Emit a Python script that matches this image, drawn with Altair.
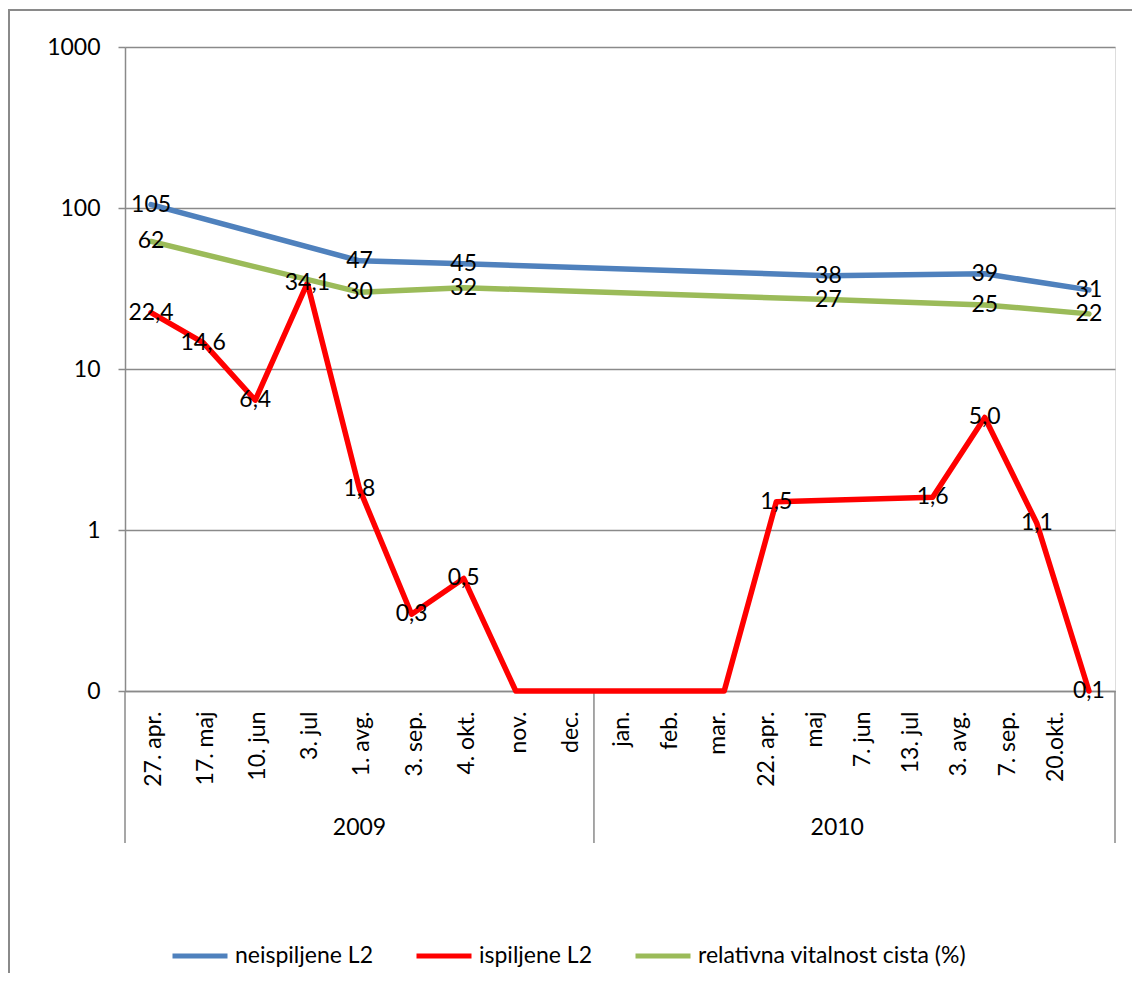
import json
import altair as alt
import pandas as pd

# ---- data ----
categories = ["27. apr.", "17. maj", "10. jun", "3. jul", "1. avg.", "3. sep.", "4. okt.", "nov.", "dec.",
              "jan.", "feb.", "mar.", "22. apr.", "maj", "7. jun", "13. jul", "3. avg.", "7. sep.", "20.okt."]
years = ["2009", "2010"]
neispiljene = [105, None, None, None, 47, None, 45, None, None,
               None, None, None, None, 38, None, None, 39, None, 31]
ispiljene = [22.4, 14.6, 6.4, 34.1, 1.8, 0.3, 0.5, 0, 0,
             0, 0, 0, 1.5, None, None, 1.6, 5.0, 1.1, 0.1]
vitalnost = [62, None, None, None, 30, None, 32, None, None,
             None, None, None, None, 27, None, None, 25, None, 22]
series_names = ["neispiljene L2", "ispiljene L2", "relativna vitalnost cista (%)"]
series_decimals = [0, 1, 0]
y_ticks = [0.1, 1, 10, 100, 1000]

series_colors = ["#4F81BD", "#FF0000", "#9BBB59"]
GRID = "#8A8A8A"
FONT = "Lato"
FS = 23

rows = []
for name, vals, dec in zip(series_names, [neispiljene, ispiljene, vitalnost], series_decimals):
    for i, (c, v) in enumerate(zip(categories, vals)):
        if v is None:
            continue
        label = "" if v == 0 else (f"{v:.{dec}f}".replace(".", ","))
        rows.append({"cat": c, "idx": i, "series": name, "value": v,
                     "plot": max(v, y_ticks[0]),  # zero values sit on the log axis floor
                     "label": label})
df = pd.DataFrame(rows)

cats_js = json.dumps(categories)
shift_expr = (f"indexof({cats_js}, datum.value) < 9 ? 3 : "
              f"2 - 3.9 * (indexof({cats_js}, datum.value) - 9)")


def xdef(band=0.5):
    return alt.X(
        "cat:N", sort=categories, bandPosition=band,
        scale=alt.Scale(type="band", domain=categories, paddingInner=0, paddingOuter=0),
        axis=alt.Axis(title=None, labelAngle=270, labelAlign="right", labelBaseline="middle",
                      labelPadding=20, ticks=False, tickSize=0, domainColor=GRID, domainWidth=1.5,
                      labelFont=FONT, labelFontSize=FS, labelColor="black", grid=False,
                      labelOffset=alt.ExprRef(shift_expr)),
    )


def ydef():
    return alt.Y(
        "plot:Q",
        scale=alt.Scale(type="log", domain=[0.1, 1000], nice=False),
        axis=alt.Axis(title=None, values=y_ticks,
                      labelExpr="datum.value < 1 ? '0' : format(datum.value, 'd')",
                      grid=True, gridColor=GRID, gridWidth=1.5, tickColor=GRID, tickSize=7,
                      tickWidth=1.5, domainColor=GRID, domainWidth=1.5, labelPadding=18,
                      labelFont=FONT, labelFontSize=FS, labelColor="black"),
    )


base = alt.Chart(df)

lines = base.mark_line(strokeWidth=5.5, strokeJoin="round", strokeCap="round").encode(
    x=xdef(), y=ydef(), order=alt.Order("idx:Q"),
    color=alt.Color("series:N", sort=series_names,
                    scale=alt.Scale(domain=series_names, range=series_colors),
                    legend=alt.Legend(title=None, orient="none", direction="horizontal", columns=3,
                                      legendX=45, legendY=879, symbolType="stroke",
                                      symbolSize=3025, symbolStrokeWidth=5, labelFont=FONT,
                                      labelFontSize=FS, labelColor="black", labelOffset=5,
                                      labelLimit=0, columnPadding=33, padding=0)),
)

labels = base.transform_filter("datum.label != ''").mark_text(
    font=FONT, fontSize=FS, color="black", align="center", baseline="middle"
).encode(x=xdef(), y=ydef(), text="label:N")

sep_df = pd.DataFrame({"cat": [categories[0], categories[9]]})
end_df = pd.DataFrame({"cat": [categories[-1]]})
seps = alt.Chart(sep_df).mark_rule(color=GRID, strokeWidth=1.5).encode(
    x=xdef(0), y=alt.value(644), y2=alt.value(796))
seps_end = alt.Chart(end_df).mark_rule(color=GRID, strokeWidth=1.5).encode(
    x=xdef(1), y=alt.value(644), y2=alt.value(796))

y2009 = alt.Chart(pd.DataFrame({"cat": [categories[4]], "year": [years[0]]})).mark_text(
    font=FONT, fontSize=FS, color="black", align="center", baseline="middle"
).encode(x=xdef(0.5), y=alt.value(781), text="year:N")
y2010 = alt.Chart(pd.DataFrame({"cat": [categories[13]], "year": [years[1]]})).mark_text(
    font=FONT, fontSize=FS, color="black", align="center", baseline="middle"
).encode(x=xdef(0.67), y=alt.value(781), text="year:N")

border = alt.Chart(pd.DataFrame({"k": [0]})).mark_rect(
    fillOpacity=0, stroke=GRID, strokeWidth=2
).encode(x=alt.value(-116), x2=alt.value(1200), y=alt.value(-37), y2=alt.value(1100))

chart = alt.layer(border, seps, seps_end, lines, labels, y2009, y2010).properties(
    width=990, height=644,
    autosize=alt.AutoSizeParams(type="none"),
    padding={"left": 117, "top": 39, "right": 17, "bottom": 282},
).configure_view(stroke=None).configure(background="white")

chart.save("out.html", embed_options={"renderer": "svg", "actions": False})
